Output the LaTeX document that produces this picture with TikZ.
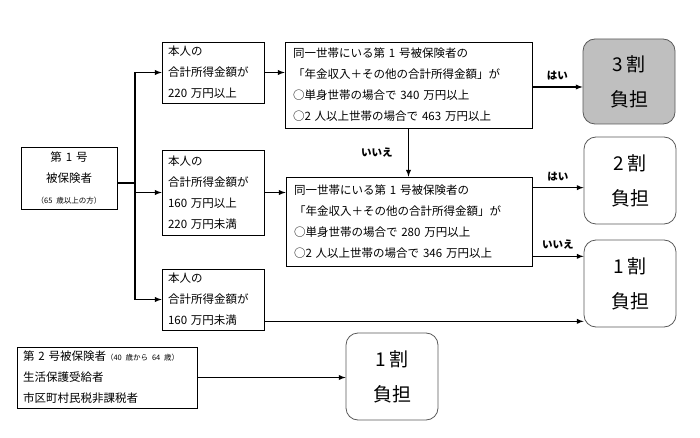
\documentclass[tikz,border=0pt]{standalone}
\usepackage{fontspec}
\setmainfont{Noto Sans CJK JP}
\usetikzlibrary{positioning,arrows}
\tikzset{
  infobox/.style={draw, line width=0.7pt, inner xsep=6pt, inner ysep=2pt, align=left,
    font=\fontsize{11.5}{21}\selectfont},
  ratebox/.style={draw=black!65, line width=0.8pt, rounded corners=12pt, align=center,
    minimum width=92pt, minimum height=87pt, font=\fontsize{19}{35}\selectfont},
  conn/.style={-latex, line width=1.3pt},
  answer/.style={font=\bfseries\fontsize{10.5}{12}\selectfont}
}
\newcommand{\smalltxt}[1]{{\fontsize{7.5}{9}\selectfont #1}}
\begin{document}
\begin{tikzpicture}[x=1pt,y=-1pt]
\useasboundingbox (0,0) rectangle (700,438);
% first group of insured persons
\node[infobox, align=center, text width=84pt, minimum height=62pt] (ins1) at (69,178)
  {第 1 号\\被保険者\\\smalltxt{（65 歳以上の方）}};
\node[infobox, text width=90pt, minimum height=61pt] (inc1) at (213,72.5)
  {本人の\\合計所得金額が\\220 万円以上};
\node[infobox, text width=90pt, minimum height=85pt] (inc2) at (213,192.5)
  {本人の\\合計所得金額が\\160 万円以上\\220 万円未満};
\node[infobox, text width=90pt, minimum height=61pt] (inc3) at (213,299.5)
  {本人の\\合計所得金額が\\160 万円未満};
\node[infobox, text width=231pt, minimum height=86pt, inner xsep=8pt] (cnd1) at (408.5,85)
  {同一世帯にいる第 1 号被保険者の\\「年金収入＋その他の合計所得金額」が\\○単身世帯の場合で 340 万円以上\\○2 人以上世帯の場合で 463 万円以上};
\node[infobox, text width=230pt, minimum height=89pt, inner xsep=8pt] (cnd2) at (409,221.5)
  {同一世帯にいる第 1 号被保険者の\\「年金収入＋その他の合計所得金額」が\\○単身世帯の場合で 280 万円以上\\○2 人以上世帯の場合で 346 万円以上};
% rates
\node[ratebox, fill=black!25, minimum height=85pt] (r3) at (629,81.5) {3\,割\\負担};
\foreach \nm/\cx/\cy/\n in {r2/630/180.5/2, r1/630/283.5/1, r1b/392/376.5/1}
  \node[ratebox] (\nm) at (\cx,\cy) {\n\,割\\負担};
% second group
\node[infobox, text width=168pt, minimum height=61pt] (ins2) at (107,377.5)
  {第 2 号被保険者\smalltxt{（40 歳から 64 歳）}\\生活保護受給者\\市区町村民税非課税者};
% connectors
\coordinate (tr) at (135,183);
\draw[line width=1.3pt] (ins1.east |- tr) -- (tr);
\foreach \b in {inc1,inc2,inc3}
  \draw[conn] (tr) |- (\b.west);
\draw[conn] (inc1.east) -- (inc1.east -| cnd1.west);
\draw[conn] (inc2.east) -- (inc2.east -| cnd2.west);
\draw[conn] ([yshift=-2pt]cnd1.east) -- node[answer, above=3pt] {はい} ([yshift=-2pt]cnd1.east -| r3.west);
\draw[conn] (cnd1.south) -- node[answer, left=12pt] {いいえ} (cnd1.south |- cnd2.north);
\draw[conn] ([yshift=-11pt]cnd2.north east) -- node[answer, above=3pt] {はい} ([yshift=-11pt]cnd2.north east -| r2.west);
\draw[conn] ([yshift=10pt]cnd2.south east) -- node[answer, above=3pt] {いいえ} ([yshift=10pt]cnd2.south east -| r1.west);
\draw[conn] ([yshift=9pt]inc3.south east) -- ([yshift=9pt]inc3.south east -| r1.west);
\draw[conn] (ins2.east) -- (ins2.east -| r1b.west);
\end{tikzpicture}
\end{document}
